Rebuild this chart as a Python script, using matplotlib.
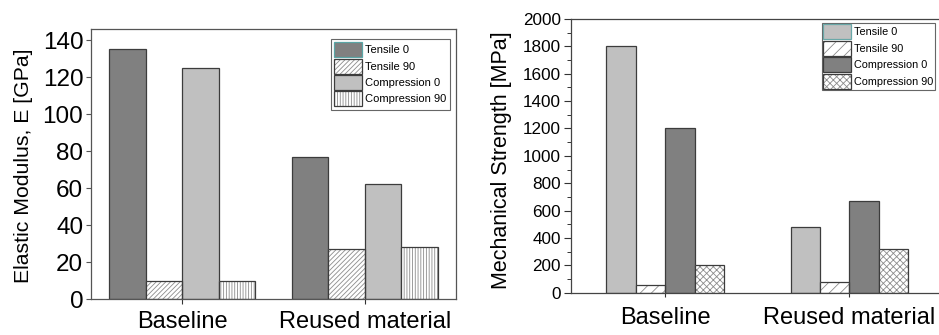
import numpy as np
import matplotlib
matplotlib.use("Agg")
import matplotlib.pyplot as plt
from matplotlib.patches import Patch
from matplotlib.ticker import MultipleLocator

plt.rcParams['font.family'] = ['Liberation Sans', 'DejaVu Sans']
plt.rcParams['hatch.linewidth'] = 0.6

# ---- data ----
categories = ['Baseline', 'Reused material']
series = ['Tensile 0', 'Tensile 90', 'Compression 0', 'Compression 90']

modulus_tensile_0 = [135, 77]
modulus_tensile_90 = [10, 27]
modulus_compression_0 = [125, 62]
modulus_compression_90 = [10, 28]

strength_tensile_0 = [1800, 480]
strength_tensile_90 = [57, 80]
strength_compression_0 = [1200, 670]
strength_compression_90 = [200, 320]

modulus_ticks = [0, 20, 40, 60, 80, 100, 120, 140]
strength_ticks = [0, 200, 400, 600, 800, 1000, 1200, 1400, 1600, 1800, 2000]

DARK = '#808080'
LIGHT = '#c0c0c0'
EDGE = '#3c3c3c'
HATCHC = '#8c8c8c'

fig = plt.figure(figsize=(9.39, 3.35), dpi=100)


def draw_panel(ax, values, styles, width):
    x = np.arange(1, len(categories) + 1)
    handles = []
    for i, (vals, (face, hatch)) in enumerate(zip(values, styles)):
        pos = x + (i - 1.5) * width
        if hatch:
            ax.bar(pos, vals, width, color='white', edgecolor=HATCHC,
                   hatch=hatch, linewidth=0, zorder=2)
            ax.bar(pos, vals, width, fill=False, edgecolor=EDGE,
                   linewidth=0.9, zorder=3)
            h = (Patch(facecolor='white', edgecolor=HATCHC, hatch=hatch, linewidth=0),
                 Patch(fill=False, edgecolor=EDGE, linewidth=0.9))
        else:
            ax.bar(pos, vals, width, color=face, edgecolor=EDGE,
                   linewidth=0.9, zorder=2)
            h = Patch(facecolor=face, edgecolor=EDGE, linewidth=0.9)
        handles.append(h)
    ax.set_xticks(x)
    ax.set_xticklabels(categories)
    return handles


# ---- left panel ----
ax1 = fig.add_axes([91 / 939, (335 - 299) / 335, (456 - 91) / 939, (299 - 29) / 335])
h1 = draw_panel(ax1,
                [modulus_tensile_0, modulus_tensile_90, modulus_compression_0, modulus_compression_90],
                [(DARK, None), (None, '///////'), (LIGHT, None), (None, '||||||')],
                0.2)
h1[0] = Patch(facecolor=DARK, edgecolor='#5aa5a5', linewidth=0.9)
ax1.set_xlim(0.5, 2.5)
ax1.set_ylim(0, 146)
ax1.set_yticks(modulus_ticks)
ax1.tick_params(axis='y', direction='out', length=3.5, width=0.8, labelsize=17.5, pad=2, color='#555555')
ax1.tick_params(axis='x', direction='out', length=3.5, width=0.8, labelsize=17, pad=5.5, color='#333333')
for s in ax1.spines.values():
    s.set_color('#555555')
    s.set_linewidth(0.9)
fig.text(24 / 939, 0.506, 'Elastic Modulus, E [GPa]', rotation=90, ha='center', va='center', fontsize=15.3)
leg1 = ax1.legend(h1, series, loc='upper right', bbox_to_anchor=(450 / 939, (335 - 39) / 335),
                  bbox_transform=fig.transFigure, borderaxespad=0, fontsize=8,
                  fancybox=False, framealpha=1, edgecolor='#666666', borderpad=0.3,
                  handlelength=2.5, handleheight=1.7, handletextpad=0.3, labelspacing=0.12)
leg1.get_frame().set_linewidth(0.8)

# ---- right panel ----
ax2 = fig.add_axes([570.7 / 939, (335 - 292.7) / 335, (941.6 - 570.7) / 939, (292.7 - 19) / 335])
h2 = draw_panel(ax2,
                [strength_tensile_0, strength_tensile_90, strength_compression_0, strength_compression_90],
                [(LIGHT, None), (None, '///'), (DARK, None), (None, 'xxxxx')],
                0.16)
h2[0] = Patch(facecolor=LIGHT, edgecolor='#6aa8a8', linewidth=0.9)
ax2.set_xlim(0.487, 2.5)
ax2.set_ylim(0, 2000)
ax2.set_yticks(strength_ticks)
ax2.yaxis.set_minor_locator(MultipleLocator(100))
ax2.tick_params(axis='y', which='major', direction='out', length=5, width=0.8, labelsize=12.3, pad=2, color='#333333')
ax2.tick_params(axis='y', which='minor', direction='out', length=3, width=0.7, color='#333333')
ax2.tick_params(axis='x', direction='out', length=3, width=0.8, labelsize=17, pad=7, color='#333333')
for s in ax2.spines.values():
    s.set_color('#444444')
    s.set_linewidth(0.9)
fig.text(502 / 939, 0.522, 'Mechanical Strength [MPa]', rotation=90, ha='center', va='center', fontsize=15.5)
leg2 = ax2.legend(h2, series, loc='upper right', bbox_to_anchor=(935 / 939, (335 - 23) / 335),
                  bbox_transform=fig.transFigure, borderaxespad=0, fontsize=7.8,
                  fancybox=False, framealpha=1, edgecolor='#666666', borderpad=0.12,
                  handlelength=2.6, handleheight=1.76, handletextpad=0.3, labelspacing=0.14)
leg2.get_frame().set_linewidth(0.8)

fig.savefig('out.png', dpi=100)
